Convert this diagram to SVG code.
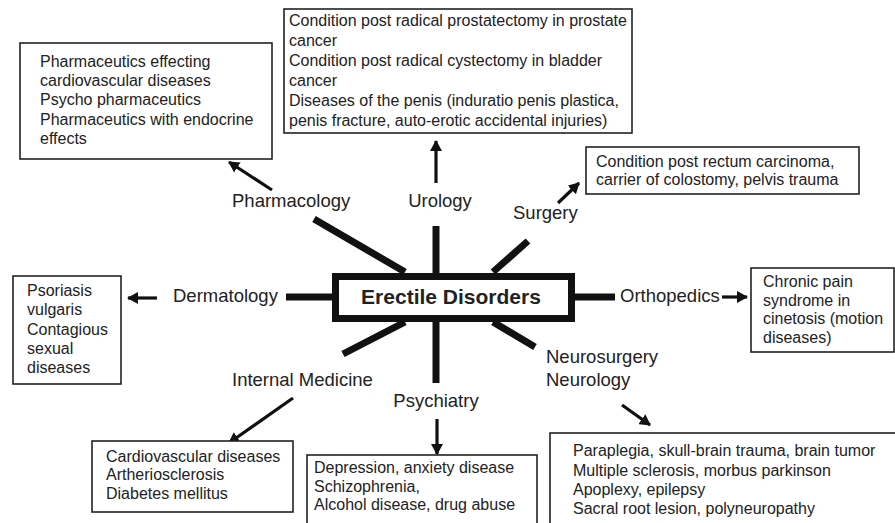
<svg xmlns="http://www.w3.org/2000/svg" width="895" height="523" viewBox="0 0 895 523">
  <style>
    text { font-family: "Liberation Sans", Arial, sans-serif; fill: #222; }
    .item { font-size: 16px; }
    .field { font-size: 18.5px; }
    .title { font-size: 21px; font-weight: bold; }
    .box { fill: #fff; stroke: #222; stroke-width: 1.6; }
    .spoke { stroke: #111; stroke-width: 7; stroke-linecap: butt; }
    .arrow { stroke: #111; stroke-width: 3.2; marker-end: url(#head); }
  </style>
  <defs>
    <marker id="head" markerUnits="userSpaceOnUse" markerWidth="12" markerHeight="12" refX="10" refY="6" orient="auto" viewBox="0 0 12 12">
      <path d="M0,0 L11,6 L0,12 Z" fill="#111"/>
    </marker>
  </defs>
  <rect width="895" height="523" fill="#fff"/>

  <!-- spokes and arrows -->
  <g id="connectors">
    <line class="spoke" x1="286" y1="297" x2="333" y2="297"/>
    <line class="spoke" x1="574" y1="297" x2="615" y2="297"/>
    <line class="spoke" x1="436" y1="226" x2="436" y2="274"/>
    <line class="spoke" x1="436" y1="321" x2="436" y2="383"/>
    <line class="spoke" x1="314" y1="219" x2="405" y2="272"/>
    <line class="spoke" x1="528" y1="241" x2="493" y2="272"/>
    <line class="spoke" x1="343" y1="354" x2="405" y2="322"/>
    <line class="spoke" x1="535" y1="347" x2="493" y2="322"/>

    <line class="arrow" x1="272" y1="190" x2="229" y2="162"/>
    <line class="arrow" x1="436" y1="183" x2="436" y2="141"/>
    <line class="arrow" x1="558" y1="203" x2="579" y2="183"/>
    <line class="arrow" x1="157" y1="298" x2="128" y2="298"/>
    <line class="arrow" x1="722" y1="297" x2="747" y2="297"/>
    <line class="arrow" x1="293" y1="398" x2="229" y2="443"/>
    <line class="arrow" x1="437" y1="419" x2="437" y2="454"/>
    <line class="arrow" x1="622" y1="405" x2="650" y2="425"/>
  </g>

  <g id="center">
    <rect x="335.5" y="276.5" width="236" height="42" fill="#fff" stroke="#111" stroke-width="7"/>
    <text class="title" x="451" y="304" text-anchor="middle">Erectile Disorders</text>
  </g>

  <g id="pharmacology">
    <text class="field" x="232" y="207">Pharmacology</text>
    <rect class="box" x="20" y="43" width="252" height="116"/>
    <text class="item" x="40" y="67">Pharmaceutics effecting</text>
    <text class="item" x="40" y="86">cardiovascular diseases</text>
    <text class="item" x="40" y="105">Psycho pharmaceutics</text>
    <text class="item" x="40" y="125">Pharmaceutics with endocrine</text>
    <text class="item" x="40" y="144">effects</text>
  </g>

  <g id="urology">
    <text class="field" x="440" y="207" text-anchor="middle">Urology</text>
    <rect class="box" x="284" y="9" width="348" height="124"/>
    <text class="item" x="289" y="26">Condition post radical prostatectomy in prostate</text>
    <text class="item" x="289" y="46">cancer</text>
    <text class="item" x="289" y="66">Condition post radical cystectomy in bladder</text>
    <text class="item" x="289" y="86">cancer</text>
    <text class="item" x="289" y="106">Diseases of the penis (induratio penis plastica,</text>
    <text class="item" x="289" y="126">penis fracture, auto-erotic accidental injuries)</text>
  </g>

  <g id="surgery">
    <text class="field" x="513" y="219">Surgery</text>
    <rect class="box" x="586" y="147" width="273" height="47"/>
    <text class="item" x="596" y="167">Condition post rectum carcinoma,</text>
    <text class="item" x="596" y="185">carrier of colostomy, pelvis trauma</text>
  </g>

  <g id="orthopedics">
    <text class="field" x="620" y="302">Orthopedics</text>
    <rect class="box" x="751" y="268" width="143" height="84"/>
    <text class="item" x="763" y="287">Chronic pain</text>
    <text class="item" x="763" y="306">syndrome in</text>
    <text class="item" x="763" y="324">cinetosis (motion</text>
    <text class="item" x="763" y="343">diseases)</text>
  </g>

  <g id="dermatology">
    <text class="field" x="173" y="302">Dermatology</text>
    <rect class="box" x="13" y="276" width="108" height="108"/>
    <text class="item" x="27" y="296">Psoriasis</text>
    <text class="item" x="27" y="315">vulgaris</text>
    <text class="item" x="27" y="335">Contagious</text>
    <text class="item" x="27" y="354">sexual</text>
    <text class="item" x="27" y="373">diseases</text>
  </g>

  <g id="internal-medicine">
    <text class="field" x="232" y="386">Internal Medicine</text>
    <rect class="box" x="92" y="441" width="201" height="71"/>
    <text class="item" x="106" y="462">Cardiovascular diseases</text>
    <text class="item" x="106" y="480">Artheriosclerosis</text>
    <text class="item" x="106" y="499">Diabetes mellitus</text>
  </g>

  <g id="psychiatry">
    <text class="field" x="436" y="407" text-anchor="middle">Psychiatry</text>
    <rect class="box" x="307" y="455" width="230" height="80"/>
    <text class="item" x="314" y="473">Depression, anxiety disease</text>
    <text class="item" x="314" y="492">Schizophrenia,</text>
    <text class="item" x="314" y="510">Alcohol disease, drug abuse</text>
  </g>

  <g id="neurology">
    <text class="field" x="546" y="363">Neurosurgery</text>
    <text class="field" x="546" y="386">Neurology</text>
    <rect class="box" x="550" y="433" width="360" height="110"/>
    <text class="item" x="573" y="456">Paraplegia, skull-brain trauma, brain tumor</text>
    <text class="item" x="573" y="476">Multiple sclerosis, morbus parkinson</text>
    <text class="item" x="573" y="495">Apoplexy, epilepsy</text>
    <text class="item" x="573" y="514">Sacral root lesion, polyneuropathy</text>
  </g>
</svg>
